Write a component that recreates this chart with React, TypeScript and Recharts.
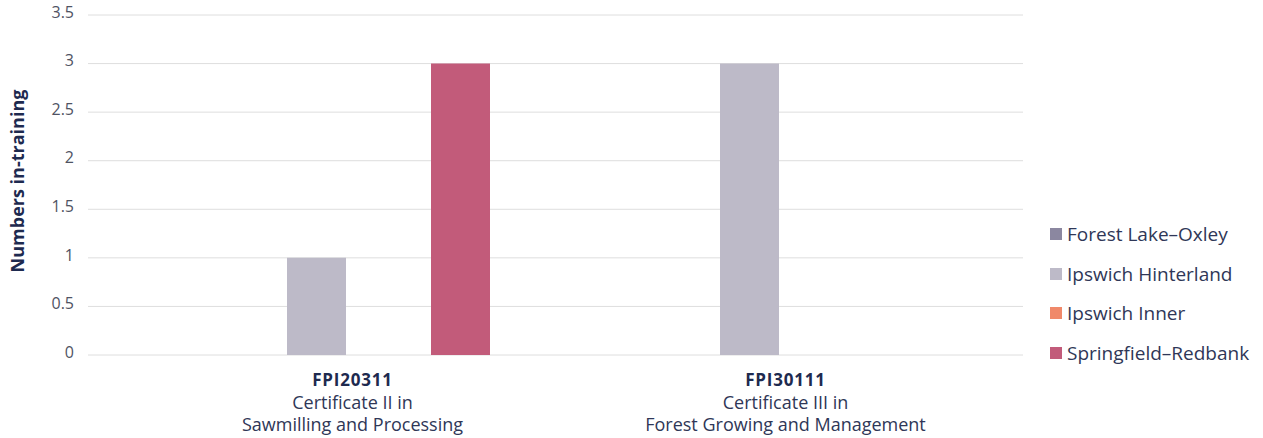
import React from 'react';
import { BarChart, Bar, XAxis, YAxis, CartesianGrid, Label } from 'recharts';

// Qualification categories (code + two-line title)
const codes = ['FPI20311', 'FPI30111'];
const titleLine1 = ['Certificate II in', 'Certificate III in'];
const titleLine2 = ['Sawmilling and Processing', 'Forest Growing and Management'];

// Numbers in-training per region
const regions = ['Forest Lake–Oxley', 'Ipswich Hinterland', 'Ipswich Inner', 'Springfield–Redbank'];
const forestLakeOxley = [0, 0];
const ipswichHinterland = [1, 3];
const ipswichInner = [0, 0];
const springfieldRedbank = [3, 0];

const yTicks = [0, 0.5, 1, 1.5, 2, 2.5, 3, 3.5];

const colors = ['#8b87a0', '#bdbac8', '#f0896a', '#c25b7a'];
const seriesKeys = ['forestLakeOxley', 'ipswichHinterland', 'ipswichInner', 'springfieldRedbank'];

const data = codes.map((code, i) => ({
  code,
  forestLakeOxley: forestLakeOxley[i],
  ipswichHinterland: ipswichHinterland[i],
  ipswichInner: ipswichInner[i],
  springfieldRedbank: springfieldRedbank[i],
}));

const FONT = '"Open Sans", "Noto Sans", sans-serif';
const NAVY = '#1e2a4f';
const TEXT = '#2f3757';

const CategoryTick = (props: any) => {
  const { x, y, index } = props;
  return (
    <g>
      <text x={x} y={y + 23} textAnchor="middle" fontFamily={FONT} fontSize={17} fontWeight={700} letterSpacing={0.8} fill={NAVY}>
        {codes[index]}
      </text>
      <text x={x} y={y + 45.5} textAnchor="middle" fontFamily={FONT} fontSize={18} fill={TEXT}>
        {titleLine1[index]}
      </text>
      <text x={x} y={y + 68} textAnchor="middle" fontFamily={FONT} fontSize={18} fill={TEXT}>
        {titleLine2[index]}
      </text>
    </g>
  );
};

// Region legend, stacked down the right-hand side
const RegionLegend = () => (
  <div style={{ position: 'absolute', left: 1050, top: 214, fontFamily: FONT }}>
    {regions.map((name, i) => (
      <div key={name} style={{ display: 'flex', alignItems: 'center', height: 39.7 }}>
        <span style={{ width: 12, height: 12, background: colors[i], display: 'inline-block', marginRight: 5 }} />
        <span style={{ fontSize: 19, color: TEXT, whiteSpace: 'nowrap' }}>{name}</span>
      </div>
    ))}
  </div>
);

export default function App() {
  return (
    <div style={{ position: 'absolute', left: 0, top: 0, width: 1263, height: 438, background: '#fff' }}>
      <BarChart
        width={1263}
        height={438}
        data={data}
        margin={{ top: 15, right: 240, left: 0, bottom: 0 }}
        barCategoryGap={79}
        barGap={13}
      >
        <CartesianGrid vertical={false} stroke="#dedede" strokeWidth={1} />
        <XAxis
          dataKey="code"
          axisLine={false}
          tickLine={false}
          interval={0}
          padding={{ left: 48, right: 21 }}
          tick={<CategoryTick />}
          height={83}
        />
        <YAxis
          width={88}
          domain={[0, 3.5]}
          ticks={yTicks}
          axisLine={false}
          tickLine={false}
          tickMargin={8}
          tick={{ fontFamily: FONT, fontSize: 16, fill: '#4f5363', dy: -3 }}
        >
          <Label
            content={(p: any) => {
              const vb = p.viewBox;
              const cy = vb.y + vb.height / 2 - 4;
              return (
                <text
                  x={24}
                  y={cy}
                  transform={`rotate(-90, 24, ${cy})`}
                  textAnchor="middle"
                  fontFamily={FONT}
                  fontSize={18}
                  fontWeight={700}
                  fill={NAVY}
                >
                  Numbers in-training
                </text>
              );
            }}
          />
        </YAxis>
        {seriesKeys.map((k, i) => (
          <Bar key={k} dataKey={k} name={regions[i]} fill={colors[i]} isAnimationActive={false} />
        ))}
      </BarChart>
      <RegionLegend />
    </div>
  );
}
